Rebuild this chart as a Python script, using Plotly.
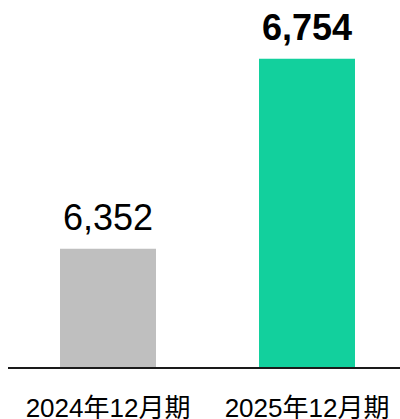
import plotly.graph_objects as go

categories = ["2024年12月期", "2025年12月期"]
values = [6352, 6754]
colors = ["#BFBFBF", "#12D09D"]
bold = [False, True]

FONT = "Arial, 'Liberation Sans', 'Noto Sans CJK JP', sans-serif"

x_idx = list(range(len(categories)))
fig = go.Figure()
fig.add_trace(go.Bar(
    x=x_idx, y=values, marker=dict(color=colors, line=dict(width=0)),
    width=0.4824, hoverinfo="skip",
))

for i, (v, b) in enumerate(zip(values, bold)):
    t = f"{v:,}"
    if b:
        t = f"<b>{t}</b>"
    fig.add_annotation(x=i, y=v, xref="x", yref="y", text=t, showarrow=False,
                       yanchor="bottom", yshift=9,
                       font=dict(family=FONT, size=36, color="black"))

base = 6102
px_per_unit = 0.4726
plot_h = 367
fig.update_layout(
    template="none",
    width=400, height=419,
    margin=dict(l=8, r=0, t=0, b=52, pad=0, autoexpand=False),
    paper_bgcolor="white", plot_bgcolor="white",
    showlegend=False,
    font=dict(family=FONT, color="black"),
    xaxis=dict(
        tickmode="array", tickvals=x_idx, ticktext=categories,
        range=[(8 - 108) / 199, (400 - 108) / 199],
        showline=True, linecolor="#1a1a1a", linewidth=2,
        showgrid=False, zeroline=False, ticks="", automargin=False,
        tickfont=dict(family=FONT, size=26, color="black"),
        ticklabelstandoff=17,
    ),
    yaxis=dict(
        range=[base, base + plot_h / px_per_unit],
        visible=False, showgrid=False, zeroline=False, automargin=False,
    ),
)

fig.write_html("out.html", config={"displayModeBar": False, "staticPlot": True},
               post_script="document.body.style.margin='0px';document.body.style.overflow='hidden';")
